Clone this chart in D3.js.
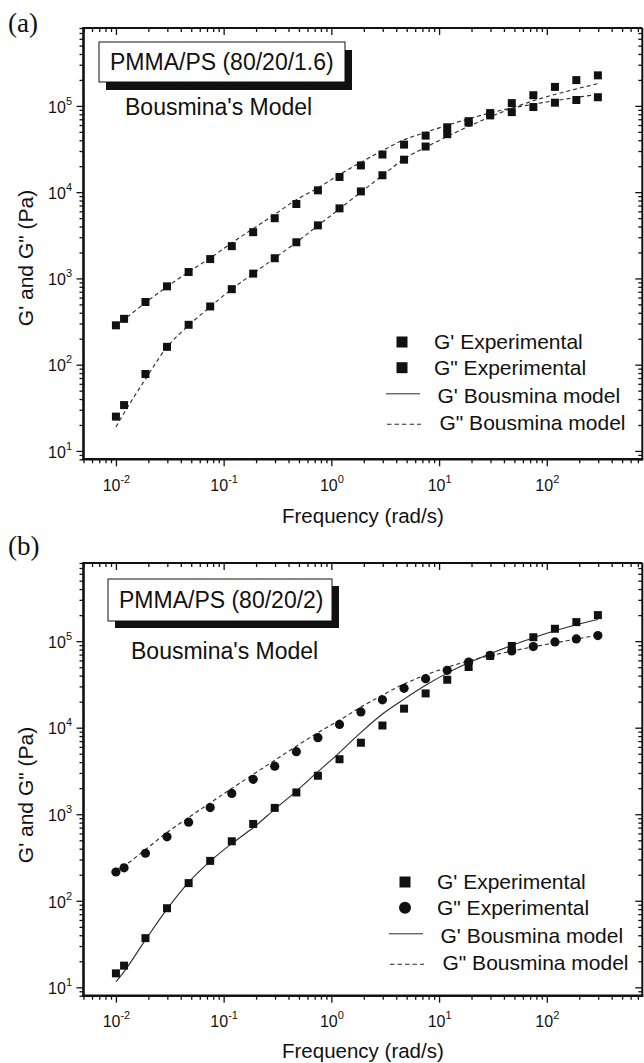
<!DOCTYPE html>
<html><head><meta charset="utf-8">
<script src="https://cdn.jsdelivr.net/npm/d3@7"></script>
<style>
body{margin:0;background:#fff;}
svg{display:block;font-family:"Liberation Sans",Arial,Helvetica,sans-serif;}
</style></head><body>
<svg id="fig" width="644" height="1063"></svg>
<script>
// Angular frequency sweep (rad/s), shared by both blends
const frequency = [0.01, 0.0119, 0.0188, 0.0298, 0.0473, 0.075, 0.119, 0.188, 0.298, 0.473,
  0.75, 1.19, 1.88, 2.98, 4.73, 7.5, 11.9, 18.8, 29.8, 47.3, 75, 119, 188, 298];

// (a) PMMA/PS 80/20/1.6 : measured moduli (Pa)
const aStorageExp = [25, 34, 78, 161, 290, 473, 750, 1137, 1714, 2624, 4120, 6490, 10200, 15700,
  23800, 33800, 47000, 64000, 82600, 107700, 133000, 166000, 199000, 226000];
const aLossExp = [286, 340, 533, 809, 1186, 1676, 2366, 3435, 4990, 7290, 10500, 15000, 20400, 27300,
  35600, 45200, 56500, 66500, 77600, 84700, 97000, 109000, 117000, 126000];
// (a) Bousmina model predictions (Pa)
const aStorageModel = [19, 27.5, 68, 160, 285, 470, 750, 1140, 1720, 2620, 4100, 6400, 10000, 15600,
  24300, 33100, 44200, 57900, 74600, 94000, 114800, 135800, 157400, 181000];
const aLossModel = [285, 335, 525, 800, 1190, 1720, 2580, 3780, 5530, 8170, 11200, 16000, 22200, 30300,
  40500, 49300, 59600, 70800, 82800, 94400, 104700, 114800, 125300, 136000];

// (b) PMMA/PS 80/20/2 : measured moduli (Pa)
const bStorageExp = [14.5, 17.8, 37, 82, 160, 289, 487, 772, 1184, 1786, 2785, 4320, 6700, 10600,
  16600, 24900, 35800, 50300, 67500, 88000, 111000, 139000, 166000, 200000];
const bLossExp = [215, 240, 354, 548, 810, 1195, 1740, 2530, 3590, 5280, 7660, 10900, 15200, 21000,
  28500, 36800, 46000, 57400, 68500, 77200, 86500, 98000, 106000, 116000];
// (b) Bousmina model predictions (Pa)
const bStorageModel = [11.6, 15.2, 35.3, 80, 163, 287, 459, 697, 1140, 1850, 3100, 5160, 8810, 14400,
  21400, 30900, 42700, 56200, 71600, 89100, 109600, 131800, 154900, 177800];
const bLossModel = [229, 255, 391, 615, 918, 1352, 1990, 2890, 4200, 6110, 8760, 12200, 17300, 23800,
  32000, 40600, 49900, 59200, 67900, 76700, 86100, 95500, 105900, 117500];

// Axis extents and labelled decades
const freqDomain = [0.005, 770];
const modulusDomain = [8, 8e5];
const xTickValues = [0.01, 0.1, 1, 10, 100];
const yTickValues = [10, 100, 1000, 10000, 100000];

const legendLabels = ["G' Experimental", 'G" Experimental', "G' Bousmina model", 'G" Bousmina model'];
const xTitle = "Frequency (rad/s)";
const yTitle = 'G\' and G" (Pa)';

const INK = "#111";
const svg = d3.select("#fig");
const L = 83.5, R = 642.3;

const panels = [
  { tag: "(a)", tagY: 32, top: 28, bottom: 459.3, name: "PMMA/PS (80/20/1.6)", model: "Bousmina's Model",
    box: [99, 42, 246, 40], shadow: [7, 8], nameXY: [110, 69.5], modelXY: [125, 115],
    gp: aStorageExp, gpp: aLossExp, gpModel: aStorageModel, gppModel: aLossModel,
    gpModelDash: true, gppMarker: "square",
    legend: [402, 342], yTitleY: 258, xTitleY: 523 },
  { tag: "(b)", tagY: 555, top: 563, bottom: 995.7, name: "PMMA/PS (80/20/2)", model: "Bousmina's Model",
    box: [108, 579, 224, 42], shadow: [7, 7], nameXY: [119, 608], modelXY: [131, 659],
    gp: bStorageExp, gpp: bLossExp, gpModel: bStorageModel, gppModel: bLossModel,
    gpModelDash: false, gppMarker: "circle",
    legend: [405, 882], yTitleY: 795, xTitleY: 1057.5 }
];

const supExp = v => { const e = Math.round(Math.log10(v)); return e < 0 ? "-" + (-e) : String(e); };

function styleAxis(g) {
  g.select(".domain").remove();
  g.attr("font-family", null).attr("font-size", 16).attr("color", INK);
  g.selectAll(".tick line").attr("stroke-width", 1.3);
}

function powerLabels(g) {
  g.selectAll(".tick text").each(function (d) {
    const t = d3.select(this);
    t.text("10").attr("fill", INK);
    t.append("tspan").attr("dy", -8).attr("font-size", 11).text(supExp(d));
  });
}

function drawPanel(p) {
  const g = svg.append("g");
  const x = d3.scaleLog().domain(freqDomain).range([L, R]);
  const y = d3.scaleLog().domain(modulusDomain).range([p.bottom, p.top]);
  const minorX = x.ticks().filter(v => !xTickValues.some(m => Math.abs(m - v) / m < 1e-6));
  const minorY = y.ticks().filter(v => !yTickValues.some(m => Math.abs(m - v) / m < 1e-6));

  // ticks: bottom/left outward, top/right inward
  const axes = [
    [d3.axisBottom, `translate(0,${p.bottom})`, x, minorX, xTickValues, 7, 4, true],
    [d3.axisLeft, `translate(${L},0)`, y, minorY, yTickValues, 7, 4, true],
    [d3.axisTop, `translate(0,${p.top})`, x, minorX, xTickValues, -7, -4, false],
    [d3.axisRight, `translate(${R},0)`, y, minorY, yTickValues, -7, -4, false]
  ];
  axes.forEach(([gen, tr, sc, minor, major, big, small, labelled]) => {
    g.append("g").attr("transform", tr)
      .call(gen(sc).tickValues(minor).tickSize(small).tickFormat(""))
      .call(styleAxis);
    const ax = g.append("g").attr("transform", tr)
      .call(gen(sc).tickValues(major).tickSize(big).tickPadding(gen === d3.axisBottom ? 13 : 4.5)
        .tickFormat(labelled ? (d => "10") : ""))
      .call(styleAxis);
    if (labelled) {
      ax.call(powerLabels);
      if (gen === d3.axisLeft) ax.selectAll(".tick text").attr("dy", "0.39em");
    }
  });

  // frame
  g.append("line").attr("x1", L).attr("x2", R).attr("y1", p.top).attr("y2", p.top)
    .attr("stroke", INK).attr("stroke-width", 2);
  g.append("line").attr("x1", R).attr("x2", R).attr("y1", p.top).attr("y2", p.bottom)
    .attr("stroke", INK).attr("stroke-width", 2);
  g.append("line").attr("x1", L - 1.3).attr("x2", R + 1).attr("y1", p.bottom).attr("y2", p.bottom)
    .attr("stroke", INK).attr("stroke-width", 2.6);
  g.append("line").attr("x1", L).attr("x2", L).attr("y1", p.top - 1).attr("y2", p.bottom)
    .attr("stroke", INK).attr("stroke-width", 2.6);

  // model curves
  const line = d3.line().x((d, i) => x(frequency[i])).y(d => y(d)).curve(d3.curveMonotoneX);
  g.append("path").attr("d", line(p.gppModel)).attr("fill", "none")
    .attr("stroke", "#2a2a2a").attr("stroke-width", 1.1).attr("stroke-dasharray", "4,3");
  g.append("path").attr("d", line(p.gpModel)).attr("fill", "none")
    .attr("stroke", "#2a2a2a").attr("stroke-width", 1.1)
    .attr("stroke-dasharray", p.gpModelDash ? "4,3" : null);

  // experimental points
  const sq = 8;
  g.append("g").selectAll("rect").data(p.gp).join("rect")
    .attr("x", (d, i) => x(frequency[i]) - sq / 2).attr("y", d => y(d) - sq / 2)
    .attr("width", sq).attr("height", sq).attr("fill", INK);
  if (p.gppMarker === "square") {
    g.append("g").selectAll("rect").data(p.gpp).join("rect")
      .attr("x", (d, i) => x(frequency[i]) - sq / 2).attr("y", d => y(d) - sq / 2)
      .attr("width", sq).attr("height", sq).attr("fill", INK);
  } else {
    g.append("g").selectAll("circle").data(p.gpp).join("circle")
      .attr("cx", (d, i) => x(frequency[i])).attr("cy", d => y(d))
      .attr("r", 4.6).attr("fill", INK);
  }

  // sample label box with drop shadow
  const [bx, by, bw, bh] = p.box;
  g.append("rect").attr("x", bx + p.shadow[0]).attr("y", by + p.shadow[1]).attr("width", bw).attr("height", bh)
    .attr("fill", INK);
  g.append("rect").attr("x", bx).attr("y", by).attr("width", bw).attr("height", bh)
    .attr("fill", "#fff").attr("stroke", INK).attr("stroke-width", 1);
  g.append("text").attr("x", p.nameXY[0]).attr("y", p.nameXY[1]).attr("font-size", 23)
    .attr("fill", INK).text(p.name);
  g.append("text").attr("x", p.modelXY[0]).attr("y", p.modelXY[1]).attr("font-size", 23)
    .attr("fill", INK).text(p.model);

  // legend
  const [lx, ly] = p.legend;
  const rowY = [0, 25.7, 51.8, 82.2];
  const textDX = [32, 32, 35.5, 37.5];
  const textY = [7.3, 33, 61, 88.4];
  const lg = g.append("g").attr("transform", `translate(${lx},${ly})`);
  lg.append("rect").attr("x", -5.5).attr("y", rowY[0] - 5.5).attr("width", 11).attr("height", 11).attr("fill", INK);
  if (p.gppMarker === "square") {
    lg.append("rect").attr("x", -5.5).attr("y", rowY[1] - 5.5).attr("width", 11).attr("height", 11).attr("fill", INK);
  } else {
    lg.append("circle").attr("cx", 0).attr("cy", rowY[1]).attr("r", 6).attr("fill", INK);
  }
  lg.append("line").attr("x1", -16).attr("x2", 18).attr("y1", rowY[2]).attr("y2", rowY[2])
    .attr("stroke", "#2a2a2a").attr("stroke-width", 1);
  lg.append("line").attr("x1", -15).attr("x2", 19).attr("y1", rowY[3]).attr("y2", rowY[3])
    .attr("stroke", "#2a2a2a").attr("stroke-width", 1.1).attr("stroke-dasharray", "4.5,3");
  lg.selectAll("text").data(legendLabels).join("text")
    .attr("x", (d, i) => textDX[i]).attr("y", (d, i) => textY[i])
    .attr("font-size", 21).attr("fill", INK).text(d => d);

  // axis titles and panel tag
  g.append("text").attr("x", (L + R) / 2).attr("y", p.xTitleY).attr("text-anchor", "middle")
    .attr("font-size", 20.5).attr("fill", INK).text(xTitle);
  g.append("text").attr("transform", `translate(33,${p.yTitleY}) rotate(-90)`).attr("text-anchor", "middle")
    .attr("font-size", 21).attr("fill", INK).text(yTitle);
  g.append("text").attr("x", 8).attr("y", p.tagY).attr("font-family", "'Liberation Serif','Times New Roman',serif")
    .attr("font-size", 27).attr("fill", INK).text(p.tag);
}

panels.forEach(drawPanel);
</script>
</body></html>
